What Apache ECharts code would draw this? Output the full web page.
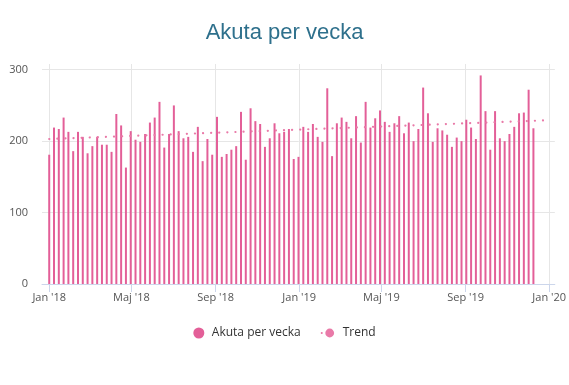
<!DOCTYPE html>
<html>
<head>
<meta charset="utf-8">
<script src="https://cdn.jsdelivr.net/npm/echarts@6/dist/echarts.min.js"></script>
<style>html,body{margin:0;padding:0;background:#fff;}#c{width:569px;height:385px;}</style>
</head>
<body>
<div id="c"></div>
<script>
// Weekly values (Monday of each week, starting 2018-01-01)
var firstWeek = '2018-01-01';
var akutaPerVecka = [
  181,219,217,233,213,186,213,206,183,193,206,195,195,185,238,222,163,214,202,199,210,226,233,255,191,
  210,250,214,204,206,185,220,172,203,181,234,178,182,188,193,241,174,246,228,224,192,204,225,211,213,217,175,
  178,220,213,224,206,199,274,179,225,233,227,204,235,198,255,219,232,243,227,213,225,235,211,226,200,217,275,
  239,199,218,215,209,192,205,200,230,219,203,292,242,188,242,204,200,210,220,239,240,272,218
];
var trendDates = ['2018-01-01', '2019-12-23'];
var trendValues = [203, 229];
var tickDates = ['2018-01-01','2018-05-01','2018-09-01','2019-01-01','2019-05-01','2019-09-01','2020-01-01'];
var tickLabels = ["Jan '18","Maj '18","Sep '18","Jan '19","Maj '19","Sep '19","Jan '20"];
var yTicks = [0, 100, 200, 300];

function ts(s){ var p = s.split('-'); return Date.UTC(+p[0], +p[1]-1, +p[2]); }
var DAY = 86400000;
var start = ts(firstWeek);
var barData = akutaPerVecka.map(function(v, i){ return [start + i*7*DAY, v]; });
var trendData = trendDates.map(function(d, i){ return [ts(d), trendValues[i]]; });
var tickTs = tickDates.map(ts);
var labelMap = {};
tickTs.forEach(function(t, i){ labelMap[t] = tickLabels[i]; });

var chart = echarts.init(document.getElementById('c'), null, {renderer:'canvas'});
var pink = '#e35f98';
chart.setOption({
  animation: false,
  backgroundColor: '#fff',
  title: {
    text: 'Akuta per vecka',
    left: 'center',
    top: 17,
    textStyle: { fontFamily: 'Liberation Sans, Arial', fontSize: 22, fontWeight: 'normal', color: '#2e708c' }
  },
  legend: {
    top: 322,
    left: 'center',
    itemWidth: 16,
    itemHeight: 11,
    itemGap: 20,
    textStyle: { fontFamily: 'Open Sans', fontSize: 12, color: '#333' },
    data: [
      { name: 'Akuta per vecka', icon: 'circle' },
      { name: 'Trend' }
    ]
  },
  grid: { left: 42, right: 9, top: 64, bottom: 101, containLabel: false },
  xAxis: {
    type: 'value',
    min: ts('2017-12-21') + 11*3600000,
    max: ts('2020-01-09') + 6*3600000,
    axisLine: { show: true, onZero: false, lineStyle: { color: '#ccd6eb', width: 1 } },
    axisTick: { show: true, customValues: tickTs, length: 8, lineStyle: { color: '#ccd6eb' } },
    axisLabel: {
      customValues: tickTs,
      margin: 8,
      fontFamily: 'Open Sans', fontSize: 11, color: '#555',
      formatter: function(v){ return labelMap[v] || ''; }
    },
    splitLine: { show: true, lineStyle: { color: '#e6e6e6', width: 1 } }
  },
  yAxis: {
    type: 'value',
    min: 0,
    max: 308,
    interval: 100,
    axisLine: { show: false },
    axisTick: { show: false, customValues: yTicks },
    axisLabel: { customValues: yTicks, margin: 14, fontFamily: 'Open Sans', fontSize: 11, color: '#555' },
    splitLine: { show: true, lineStyle: { color: '#e6e6e6', width: 1 } }
  },
  series: [
    {
      name: 'Akuta per vecka',
      type: 'bar',
      barWidth: 2,
      itemStyle: { color: pink },
      data: barData,
      z: 2
    },
    {
      name: 'Trend',
      type: 'line',
      symbol: 'none',
      data: trendData,
      lineStyle: { color: '#e97aa8', width: 2.2, type: [0.1, 8], cap: 'round' },
      itemStyle: { color: '#e97aa8' },
      z: 3
    }
  ]
});
</script>
</body>
</html>
